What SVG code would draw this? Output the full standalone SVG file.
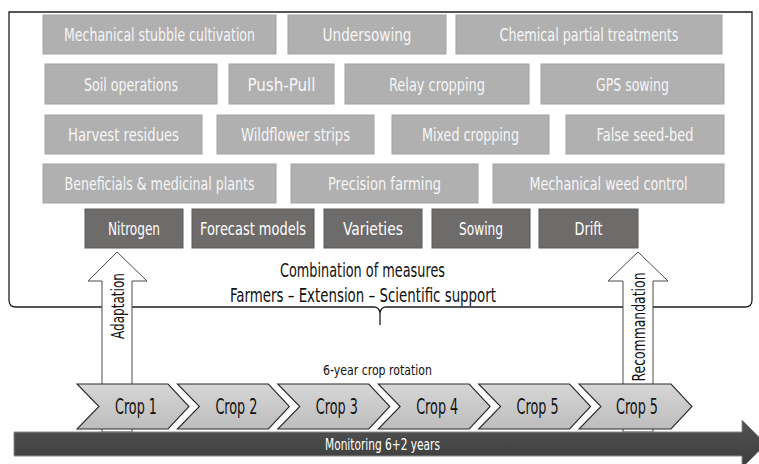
<svg xmlns="http://www.w3.org/2000/svg" width="759" height="464" viewBox="0 0 759 464">
  <defs>
    <style>
      text { font-family: "Liberation Sans Narrow", "DejaVu Sans Condensed", "Liberation Sans", sans-serif; font-stretch: condensed; }
      .lb { fill: #b0b0b0; stroke: #a2a2a2; stroke-width: 1; }
      .db { fill: #6e6b6b; stroke: #5c5a5a; stroke-width: 1; }
      .lt { fill: #f6f6f6; font-size: 18px; text-anchor: middle; }
      .dt { fill: #ffffff; font-size: 18px; text-anchor: middle; }
      .frame { fill: none; stroke: #1e1e1e; stroke-width: 1.3; }
      .barrow { fill: #ffffff; stroke: #4a4a4a; stroke-width: 1; }
      .chev { fill: url(#chevGrad); stroke: #2a2a2a; stroke-width: 1.1; }
      .ct { fill: #111; font-size: 21px; text-anchor: middle; }
      .bk { fill: #111; text-anchor: middle; }
    </style>
    <linearGradient id="chevGrad" x1="0" y1="0" x2="0" y2="1">
      <stop offset="0" stop-color="#d6d6d6"/>
      <stop offset="1" stop-color="#bdbdbd"/>
    </linearGradient>
    <linearGradient id="barGrad" x1="0" y1="0" x2="0" y2="1">
      <stop offset="0" stop-color="#535353"/>
      <stop offset="1" stop-color="#3c3c3c"/>
    </linearGradient>
  </defs>

  <rect x="0" y="0" width="759" height="464" fill="#ffffff"/>

  <!-- frame with brace -->
  <g id="frame">
    <path class="frame" d="M 374,307 H 16 Q 9,307 9,300 V 12 H 752 V 300 Q 752,307 745,307 H 386 Q 381,307 380,313 Q 379,307 374,307 M 380,313 V 325"/>
  </g>

  <!-- row 1 -->
  <g id="n-mech-stubble"><rect class="lb" x="43" y="15" width="233" height="39"/><text class="lt" x="159.5" y="41" textLength="191" lengthAdjust="spacingAndGlyphs">Mechanical stubble cultivation</text></g>
  <g id="n-undersowing"><rect class="lb" x="288" y="15" width="158" height="39"/><text class="lt" x="367" y="41" textLength="89" lengthAdjust="spacingAndGlyphs">Undersowing</text></g>
  <g id="n-chemical"><rect class="lb" x="456" y="15" width="266" height="39"/><text class="lt" x="589" y="41" textLength="179" lengthAdjust="spacingAndGlyphs">Chemical partial treatments</text></g>

  <!-- row 2 -->
  <g id="n-soil"><rect class="lb" x="45" y="64" width="172" height="40"/><text class="lt" x="131" y="90.5" textLength="94" lengthAdjust="spacingAndGlyphs">Soil operations</text></g>
  <g id="n-pushpull"><rect class="lb" x="229" y="64" width="105" height="40"/><text class="lt" x="281.5" y="90.5" textLength="68" lengthAdjust="spacingAndGlyphs">Push-Pull</text></g>
  <g id="n-relay"><rect class="lb" x="345" y="64" width="184" height="40"/><text class="lt" x="437" y="90.5" textLength="96" lengthAdjust="spacingAndGlyphs">Relay cropping</text></g>
  <g id="n-gps"><rect class="lb" x="541" y="64" width="183" height="40"/><text class="lt" x="632.5" y="90.5" textLength="73" lengthAdjust="spacingAndGlyphs">GPS sowing</text></g>

  <!-- row 3 -->
  <g id="n-harvest"><rect class="lb" x="45" y="115" width="157" height="39"/><text class="lt" x="123.5" y="141" textLength="111" lengthAdjust="spacingAndGlyphs">Harvest residues</text></g>
  <g id="n-wildflower"><rect class="lb" x="217" y="115" width="157" height="39"/><text class="lt" x="295.5" y="141" textLength="109" lengthAdjust="spacingAndGlyphs">Wildflower strips</text></g>
  <g id="n-mixed"><rect class="lb" x="392" y="115" width="157" height="39"/><text class="lt" x="470.5" y="141" textLength="97" lengthAdjust="spacingAndGlyphs">Mixed cropping</text></g>
  <g id="n-false"><rect class="lb" x="566" y="115" width="158" height="39"/><text class="lt" x="645" y="141" textLength="97" lengthAdjust="spacingAndGlyphs">False seed-bed</text></g>

  <!-- row 4 -->
  <g id="n-beneficials"><rect class="lb" x="43" y="164" width="233" height="39"/><text class="lt" x="159.5" y="190" textLength="190" lengthAdjust="spacingAndGlyphs">Beneficials &amp; medicinal plants</text></g>
  <g id="n-precision"><rect class="lb" x="291" y="164" width="187" height="39"/><text class="lt" x="384.5" y="190" textLength="113" lengthAdjust="spacingAndGlyphs">Precision farming</text></g>
  <g id="n-mech-weed"><rect class="lb" x="493" y="164" width="231" height="39"/><text class="lt" x="608.5" y="190" textLength="158" lengthAdjust="spacingAndGlyphs">Mechanical weed control</text></g>

  <!-- row 5 (dark) -->
  <g id="n-nitrogen"><rect class="db" x="85" y="209" width="98" height="39"/><text class="dt" x="134" y="235" textLength="52" lengthAdjust="spacingAndGlyphs">Nitrogen</text></g>
  <g id="n-forecast"><rect class="db" x="192" y="209" width="122" height="39"/><text class="dt" x="253" y="235" textLength="106" lengthAdjust="spacingAndGlyphs">Forecast models</text></g>
  <g id="n-varieties"><rect class="db" x="324" y="209" width="98" height="39"/><text class="dt" x="373" y="235" textLength="60" lengthAdjust="spacingAndGlyphs">Varieties</text></g>
  <g id="n-sowing"><rect class="db" x="432" y="209" width="98" height="39"/><text class="dt" x="481" y="235" textLength="44" lengthAdjust="spacingAndGlyphs">Sowing</text></g>
  <g id="n-drift"><rect class="db" x="539" y="209" width="99" height="39"/><text class="dt" x="588.5" y="235" textLength="28" lengthAdjust="spacingAndGlyphs">Drift</text></g>

  <!-- combination labels -->
  <g id="n-combination">
    <text class="bk" x="362.5" y="277" font-size="19" textLength="165" lengthAdjust="spacingAndGlyphs">Combination of measures</text>
    <text class="bk" x="363" y="302" font-size="19" textLength="266" lengthAdjust="spacingAndGlyphs">Farmers – Extension – Scientific support</text>
  </g>

  <!-- connectors: block arrows -->
  <g id="connectors">
    <polygon id="c-adaptation" class="barrow" points="117,252 147,281 132,281 132,432 102,432 102,281 88,281"/>
    <text class="bk" transform="translate(123.5,306) rotate(-90)" x="0" y="0" font-size="18" textLength="66" lengthAdjust="spacingAndGlyphs">Adaptation</text>
    <polygon id="c-recommandation" class="barrow" points="638,252 668,281 653,281 653,432 623,432 623,281 608,281"/>
    <text class="bk" transform="translate(644.5,327) rotate(-90)" x="0" y="0" font-size="18" textLength="109" lengthAdjust="spacingAndGlyphs">Recommandation</text>
  </g>

  <!-- rotation label -->
  <g id="n-rotation-label">
    <text class="bk" x="377.5" y="375" font-size="14" textLength="109" lengthAdjust="spacingAndGlyphs">6-year crop rotation</text>
  </g>

  <!-- crop chevrons -->
  <g id="n-crop1"><polygon class="chev" points="77,384 168,384 189,406.5 168,429 77,429 99,406.5"/><text class="ct" x="136" y="414" textLength="42" lengthAdjust="spacingAndGlyphs">Crop 1</text></g>
  <g id="n-crop2"><polygon class="chev" points="177.4,384 268.4,384 289.4,406.5 268.4,429 177.4,429 199.4,406.5"/><text class="ct" x="236.4" y="414" textLength="42" lengthAdjust="spacingAndGlyphs">Crop 2</text></g>
  <g id="n-crop3"><polygon class="chev" points="277.8,384 368.8,384 389.8,406.5 368.8,429 277.8,429 299.8,406.5"/><text class="ct" x="336.8" y="414" textLength="42" lengthAdjust="spacingAndGlyphs">Crop 3</text></g>
  <g id="n-crop4"><polygon class="chev" points="378.2,384 469.2,384 490.2,406.5 469.2,429 378.2,429 400.2,406.5"/><text class="ct" x="437.2" y="414" textLength="42" lengthAdjust="spacingAndGlyphs">Crop 4</text></g>
  <g id="n-crop5"><polygon class="chev" points="478.6,384 569.6,384 590.6,406.5 569.6,429 478.6,429 500.6,406.5"/><text class="ct" x="537.6" y="414" textLength="42" lengthAdjust="spacingAndGlyphs">Crop 5</text></g>
  <g id="n-crop6"><polygon class="chev" points="579,384 671,384 692,406.5 671,429 579,429 601,406.5"/><text class="ct" x="637" y="414" textLength="42" lengthAdjust="spacingAndGlyphs">Crop 5</text></g>

  <!-- monitoring arrow -->
  <g id="n-monitoring">
    <polygon points="14,432 742,432 742,420 766,444 742,468 742,456 14,456" fill="url(#barGrad)" stroke="#8a8a8a" stroke-width="1"/>
    <text x="382.5" y="450" font-size="15" fill="#ffffff" text-anchor="middle" textLength="115" lengthAdjust="spacingAndGlyphs">Monitoring 6+2 years</text>
  </g>
</svg>
